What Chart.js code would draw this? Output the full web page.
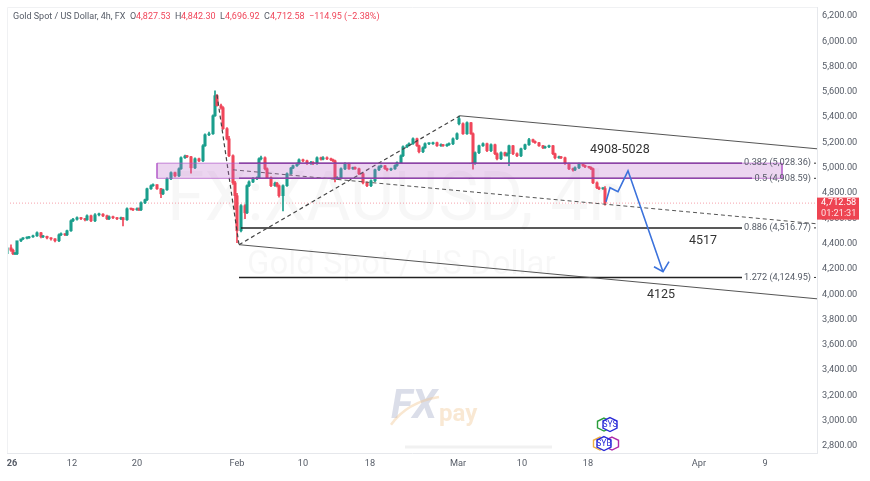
<!DOCTYPE html>
<html>
<head>
<meta charset="utf-8">
<title>Gold Spot / US Dollar, 4h</title>
<script src="https://cdn.jsdelivr.net/npm/chart.js@4/dist/chart.umd.min.js"></script>
<style>
  html, body { margin: 0; padding: 0; background: #fff; }
  canvas { display: block; filter: blur(0.35px); }
</style>
</head>
<body>
<canvas id="goldChart" width="870" height="481"></canvas>
<script>
// candles (x = bar number)
const candleBars = [
  0,2,3,4,5,7,8,10,11,13,
  15,17,18,20,22,24,26,27,29,30,
  32,33,35,37,39,40,42,44,46,48,
  50,51,53,55,57,58,60,62,63,65,
  66,67,69,70,72,73,75,77,78,80,
  82,84,86,87,89,90,92,94,96,98,
  99,101,103,104,105,107,108,110,111,113,
  114,115,117,119,120,121,123,125,126,127,
  129,130,132,134,135,136,138,140,142,143,
  145,146,148,150,152,153,155,157,158,160,
  162,163,164,165,167,169,171,173,174,176,
  178,180,182,184,186,187,189,190,192,194,
  195,197,198,200,201,203,205,206,208,209,
  211,213,215,217,218,220,221,223,225,226,
  228,230,232,233,234,236,238,240,242,244,
  245,247,249,250,251,253,255,257,259,261,
  263,264,266,268,269,271,273,274,276,277,
  279,281,283,284,286,288,289,291,292,293,
  295,296,298,299
];
const opens = [
  4312,4359,4340,4312,4312,4415,4430,4436,4438,4446,
  4454,4478,4446,4450,4438,4430,4415,4462,4470,4462,
  4494,4573,4585,4597,4590,4581,4612,4573,4620,4625,
  4612,4589,4605,4597,4589,4597,4581,4668,4665,4660,
  4668,4660,4715,4739,4826,4850,4858,4826,4786,4818,
  4905,4953,4929,4984,5071,5085,5079,4992,5063,5047,
  5166,5253,5261,5403,5562,5483,5467,5301,5221,5087,
  4873,4771,4494,4692,4636,4850,4880,4905,4913,5063,
  5071,4984,4913,4850,4870,4850,4771,4850,4945,4990,
  5008,5024,5055,5047,5024,5035,5024,5071,5060,5071,
  5063,5055,5047,4905,4913,4984,5024,4984,4995,4984,
  4945,4873,4850,4889,4976,5000,5008,4985,4976,4984,
  5010,5032,5087,5158,5170,5182,5221,5166,5119,5150,
  5182,5182,5190,5166,5175,5166,5175,5182,5221,5340,
  5340,5261,5348,5261,5024,5111,5166,5182,5127,5174,
  5103,5063,5111,5090,5103,5166,5103,5087,5142,5174,
  5214,5200,5190,5166,5150,5158,5166,5103,5071,5078,
  5071,5024,4984,4975,4992,5024,5010,5000,4995,4984,
  4873,4834,4826,4827.53
];
const highs = [
  4375,4383,4350,4322,4322,4425,4440,4446,4450,4460,
  4485,4482,4458,4452,4440,4432,4470,4478,4472,4500,
  4580,4592,4604,4600,4592,4620,4618,4630,4634,4630,
  4618,4612,4610,4600,4602,4600,4675,4674,4670,4676,
  4675,4722,4745,4832,4858,4866,4860,4830,4824,4912,
  4960,4958,4992,5078,5092,5090,5082,5070,5068,5175,
  5260,5275,5410,5600,5570,5495,5475,5310,5240,5095,
  4885,4790,4700,4700,4858,4888,4915,4920,5070,5085,
  5078,4992,4920,4878,4876,4858,4858,4952,4996,5014,
  5030,5062,5060,5052,5042,5040,5078,5076,5080,5078,
  5068,5060,5052,4922,4992,5032,5030,4998,5000,4990,
  4950,4880,4896,4982,5008,5014,5012,4990,4990,5016,
  5038,5094,5165,5176,5190,5228,5226,5172,5158,5190,
  5190,5196,5195,5182,5178,5182,5190,5228,5268,5400,
  5348,5355,5352,5268,5118,5172,5190,5188,5182,5180,
  5110,5118,5116,5110,5172,5170,5110,5148,5180,5225,
  5218,5204,5194,5170,5164,5172,5170,5108,5084,5082,
  5076,5030,4990,5000,5030,5028,5014,5004,5000,4990,
  4880,4842,4835,4842.30
];
const lows = [
  4300,4330,4305,4305,4305,4408,4424,4430,4434,4442,
  4450,4438,4440,4430,4420,4405,4408,4455,4455,4456,
  4488,4565,4578,4582,4572,4575,4565,4565,4612,4605,
  4582,4582,4590,4582,4582,4533,4575,4658,4652,4655,
  4652,4652,4708,4732,4820,4845,4820,4755,4780,4812,
  4898,4920,4922,4978,5065,5072,4950,4985,5040,5040,
  5160,5245,5255,5398,5478,5455,5295,5212,5080,4860,
  4660,4400,4485,4590,4630,4842,4874,4898,4906,5055,
  4975,4905,4842,4845,4840,4760,4650,4845,4940,4985,
  5002,5018,5040,5018,5018,5016,5018,5052,5054,5056,
  5048,5040,4880,4898,4905,4976,4978,4978,4978,4938,
  4865,4842,4843,4882,4970,4992,4978,4968,4970,4978,
  5002,5025,5080,5150,5164,5176,5160,5110,5112,5144,
  5174,5176,5160,5160,5160,5160,5168,5175,5214,5330,
  5255,5255,5255,4980,5018,5104,5160,5120,5120,5095,
  5055,5056,5084,5084,5008,5096,5080,5080,5135,5168,
  5192,5184,5160,5142,5144,5150,5095,5062,5066,5064,
  5018,4976,4966,4970,4985,5003,4992,4988,4976,4866,
  4826,4818,4820,4696.92
];
const closes = [
  4359,4340,4312,4312,4415,4430,4436,4438,4446,4454,
  4478,4446,4450,4438,4430,4415,4462,4470,4462,4494,
  4573,4585,4597,4590,4581,4612,4573,4620,4625,4612,
  4589,4605,4597,4589,4597,4581,4668,4665,4660,4668,
  4660,4715,4739,4826,4850,4858,4826,4786,4818,4905,
  4953,4929,4984,5071,5085,5079,4992,5063,5047,5166,
  5253,5261,5403,5562,5483,5467,5301,5221,5087,4873,
  4771,4494,4692,4636,4850,4880,4905,4913,5063,5071,
  4984,4913,4850,4870,4850,4771,4850,4945,4990,5008,
  5024,5055,5047,5024,5035,5024,5071,5060,5071,5063,
  5055,5047,4905,4913,4984,5024,4984,4995,4984,4945,
  4873,4850,4889,4976,5000,5008,4985,4976,4984,5010,
  5032,5087,5158,5170,5182,5221,5166,5119,5150,5182,
  5182,5190,5166,5175,5166,5175,5182,5221,5261,5380,
  5261,5348,5261,5024,5111,5166,5182,5127,5174,5103,
  5063,5111,5090,5103,5166,5103,5087,5142,5174,5214,
  5200,5190,5166,5150,5158,5166,5103,5071,5078,5071,
  5024,4984,4975,4992,5024,5010,5000,4995,4984,4873,
  4834,4826,4827.53,4712.58
];

// axes
const xTickBars = [2.5, 32.5, 65, 115, 148, 181.5, 225.5, 257.5, 290.5, 346, 379];
const xTickLabels = ['26', '12', '20', 'Feb', '10', '18', 'Mar', '10', '18', 'Apr', '9'];
const yTickValues = [6200, 6000, 5800, 5600, 5400, 5200, 5000, 4800, 4600, 4400, 4200, 4000, 3800, 3600, 3400, 3200, 3000, 2800];
const yTickLabels = ['6,200.00', '6,000.00', '5,800.00', '5,600.00', '5,400.00', '5,200.00', '5,000.00', '4,800.00', '4,600.00', '4,400.00', '4,200.00', '4,000.00', '3,800.00', '3,600.00', '3,400.00', '3,200.00', '3,000.00', '2,800.00'];

// fib levels and the drawings on top of the candles
const fibPrices = [5028.36, 4908.59, 4516.77, 4124.95];
const fibLabels = ['0.382 (5,028.36)', '0.5 (4,908.59)', '0.886 (4,516.77)', '1.272 (4,124.95)'];
const fibStartBars = [116, 116, 117, 116];
const fibEndBars = [367.5, 372.5, 367.5, 367.5];
const fibColors = ['#5a1f78', '#5a1f78', '#222222', '#222222'];
const zoneBars = [75, 387.5];
const dropBars = [105, 116], dropPrices = [5569, 4384];
const riseBars = [116, 226.5], risePrices = [4384, 5403];
const trendBars = [113, 405], trendPrices = [4976, 4549];
const upperBars = [226.5, 405], upperPrices = [5403, 5142];
const lowerBars = [116, 405], lowerPrices = [4384, 3956];
const arrowBars = [299.5, 301.5, 305.5, 310.5, 328], arrowPrices = [4724, 4834, 4803, 4968, 4170];
const headBars = [323.5, 328, 331], headPrices = [4210, 4170, 4250];
const lastPrice = 4712.58;

const upColor = '#1a9e8c', downColor = '#f0465a';
const uiFont = 'Roboto, "Open Sans", sans-serif';

function toPoints(xs, ys) {
  return xs.map((x, i) => ({ x: x, y: ys[i] }));
}
function line(xs, ys, color, width, dash, extra) {
  return Object.assign({
    type: 'line',
    data: toPoints(xs, ys),
    borderColor: color,
    borderWidth: width,
    borderDash: dash || [],
    pointRadius: 0,
    tension: 0,
    fill: false,
    order: 1
  }, extra || {});
}

const candleColors = closes.map((c, i) => c >= opens[i] ? upColor : downColor);

const datasets = [
  // zone
  line(zoneBars, [fibPrices[0], fibPrices[0]], 'rgba(178,90,200,0.75)', 1, [], {
    fill: '+1', backgroundColor: 'rgba(186,104,200,0.28)', order: 0
  }),
  line(zoneBars, [fibPrices[1], fibPrices[1]], 'rgba(178,90,200,0.75)', 1, [], { order: 0 }),
  line([75, 75], [fibPrices[0], fibPrices[1]], 'rgba(178,90,200,0.75)', 1, [], { order: 0 }),
  line([387.5, 387.5], [fibPrices[0], fibPrices[1]], 'rgba(178,90,200,0.75)', 1, [], { order: 0 }),
  // dashed swings and channel
  line(dropBars, dropPrices, '#444444', 1.2, [4, 3], { order: 0 }),
  line(riseBars, risePrices, '#444444', 1.2, [4, 3], { order: 0 }),
  line(trendBars, trendPrices, '#555555', 1, [4, 3], { order: 0 }),
  line(upperBars, upperPrices, '#555555', 1, [], { order: 0 }),
  line(lowerBars, lowerPrices, '#555555', 1, [], { order: 0 }),
  // last price
  line([0, 405], [lastPrice, lastPrice], 'rgba(240,70,90,0.5)', 1, [1, 2], { order: 3 }),
  // faint strip over the axis
  line([199, 272.5], [2784, 2784], '#f1f1f1', 3, [], { order: 5 }),
  // forecast arrow
  line(arrowBars, arrowPrices, '#3b72dc', 1.6, [], { order: -1 }),
  line(headBars, headPrices, '#3b72dc', 1.6, [], { order: -1 }),
  // wicks and bodies
  {
    type: 'bar',
    data: candleBars.map((b, i) => ({ x: b, y: [lows[i], highs[i]] })),
    backgroundColor: candleColors,
    barThickness: 1,
    order: 2,
    grouped: false
  },
  {
    type: 'bar',
    data: candleBars.map((b, i) => ({ x: b, y: [opens[i], closes[i]] })),
    backgroundColor: candleColors,
    barThickness: 2.4,
    minBarLength: 1,
    order: 1.5,
    grouped: false
  }
];

fibPrices.forEach((p, i) => {
  datasets.push(line([fibStartBars[i], fibEndBars[i]], [p, p], fibColors[i], 1.5, [], { order: 0 }));
});

// faint watermarks behind the candles
const watermarks = {
  id: 'watermarks',
  beforeDatasetsDraw(chart) {
    const ctx = chart.ctx, x = chart.scales.x, y = chart.scales.y;
    ctx.save();
    ctx.textBaseline = 'middle';
    ctx.textAlign = 'left';
    ctx.fillStyle = 'rgba(0,0,0,0.03)';
    ctx.font = '68px ' + uiFont;
    ctx.fillText('FX:XAUUSD, 4h', x.getPixelForValue(80), y.getPixelForValue(4710));
    ctx.font = '33px ' + uiFont;
    ctx.fillText('Gold Spot / US Dollar', x.getPixelForValue(120), y.getPixelForValue(4220));

    // FXpay logo
    ctx.fillStyle = 'rgba(105,115,165,0.24)';
    ctx.font = 'italic bold 40px ' + uiFont;
    ctx.fillText('FX', x.getPixelForValue(192), y.getPixelForValue(3090));
    ctx.fillStyle = 'rgba(240,195,140,0.38)';
    ctx.font = 'bold 24px ' + uiFont;
    ctx.fillText('pay', x.getPixelForValue(216), y.getPixelForValue(3040));
    ctx.strokeStyle = 'rgba(240,195,140,0.4)';
    ctx.lineWidth = 2.5;
    ctx.beginPath();
    ctx.moveTo(x.getPixelForValue(192), y.getPixelForValue(2960));
    ctx.quadraticCurveTo(x.getPixelForValue(200), y.getPixelForValue(3140), x.getPixelForValue(216), y.getPixelForValue(3180));
    ctx.stroke();
    ctx.restore();
  }
};

function shield(ctx, cx, cy, r, color, fill) {
  ctx.beginPath();
  ctx.moveTo(cx, cy - r);
  ctx.lineTo(cx + r, cy - r * 0.5);
  ctx.lineTo(cx + r, cy + r * 0.5);
  ctx.lineTo(cx, cy + r);
  ctx.lineTo(cx - r, cy + r * 0.5);
  ctx.lineTo(cx - r, cy - r * 0.5);
  ctx.closePath();
  if (fill) { ctx.fillStyle = fill; ctx.fill(); }
  ctx.lineWidth = 1.4;
  ctx.strokeStyle = color;
  ctx.stroke();
}

// header, fib labels, notes, price tag
const overlay = {
  id: 'overlay',
  afterDraw(chart) {
    const ctx = chart.ctx, x = chart.scales.x, y = chart.scales.y, area = chart.chartArea;
    ctx.save();

    // panel edge
    ctx.strokeStyle = '#f0f1f3';
    ctx.lineWidth = 1;
    ctx.beginPath();
    ctx.moveTo(area.left + 0.5, area.bottom);
    ctx.lineTo(area.left + 0.5, area.top + 0.5);
    ctx.lineTo(area.right, area.top + 0.5);
    ctx.stroke();

    // header
    ctx.textBaseline = 'middle';
    ctx.textAlign = 'left';
    ctx.font = '9px ' + uiFont;
    const header = [
      ['Gold Spot / US Dollar, 4h, FX', 13, '#555b66'],
      ['O', 130, '#555b66'], ['4,827.53', 136, '#f0465a'],
      ['H', 175, '#555b66'], ['4,842.30', 181, '#f0465a'],
      ['L', 220, '#555b66'], ['4,696.92', 225, '#f0465a'],
      ['C', 264, '#555b66'], ['4,712.58', 270, '#f0465a'],
      ['\u2212114.95 (\u22122.38%)', 309, '#f0465a']
    ];
    header.forEach(h => {
      ctx.fillStyle = h[2];
      ctx.fillText(h[0], h[1], 17);
    });

    // fib labels with their small marks at the axis
    ctx.textAlign = 'right';
    ctx.font = '9.2px ' + uiFont;
    fibPrices.forEach((p, i) => {
      ctx.fillStyle = '#555b66';
      ctx.fillText(fibLabels[i], x.getPixelForValue(402), y.getPixelForValue(p));
      ctx.fillStyle = '#333333';
      ctx.fillRect(area.right - 3, y.getPixelForValue(p) - 0.5, 2, 1);
    });

    // notes
    ctx.textAlign = 'left';
    ctx.fillStyle = '#333333';
    ctx.font = '12.5px ' + uiFont;
    ctx.fillText('4908-5028', x.getPixelForValue(291.5), y.getPixelForValue(5135));
    ctx.fillText('4517', x.getPixelForValue(341), y.getPixelForValue(4415));
    ctx.fillText('4125', x.getPixelForValue(320), y.getPixelForValue(3985));

    // study badges
    const by1 = y.getPixelForValue(2962), by2 = y.getPixelForValue(2812);
    shield(ctx, x.getPixelForValue(298.5), by1, 6.5, '#2a9d3a', '#ffffff');
    shield(ctx, x.getPixelForValue(301.5), by1, 7, '#2b2bd8', '#ffffff');
    shield(ctx, x.getPixelForValue(296.5), by2, 6.5, '#f0b040', '#ffffff');
    shield(ctx, x.getPixelForValue(302.5), by2, 6.5, '#b02aa8', '#ffffff');
    shield(ctx, x.getPixelForValue(298.5), by2, 7, '#2b2bd8', '#ffffff');
    ctx.textAlign = 'center';
    ctx.font = '8.5px ' + uiFont;
    ctx.fillStyle = '#2b2bd8';
    ctx.fillText('SYS', x.getPixelForValue(301.5), by1 + 0.5);
    ctx.fillText('SYB', x.getPixelForValue(298.5), by2 + 0.5);

    // price tag
    const tagY = y.getPixelForValue(lastPrice);
    ctx.fillStyle = '#ee4452';
    ctx.fillRect(area.right, tagY - 5.5, 42, 22);
    ctx.textAlign = 'left';
    ctx.fillStyle = '#ffffff';
    ctx.font = '9.2px ' + uiFont;
    ctx.fillText('4,712.58', area.right + 4, tagY);
    ctx.fillStyle = 'rgba(255,255,255,0.85)';
    ctx.fillText('01:21:31', area.right + 4, tagY + 11);
    ctx.restore();
  }
};

new Chart(document.getElementById('goldChart'), {
  type: 'bar',
  data: { datasets: datasets },
  plugins: [watermarks, overlay],
  options: {
    responsive: false,
    animation: false,
    devicePixelRatio: 1,
    layout: { padding: { left: 7, top: 7, right: 0, bottom: 0 } },
    plugins: { legend: { display: false }, tooltip: { enabled: false } },
    scales: {
      x: {
        type: 'linear',
        offset: false,
        min: 0,
        max: 405,
        grid: { display: false, drawTicks: false },
        border: { color: '#e6e8ec' },
        afterFit(scale) { scale.height = 28; scale.paddingLeft = 0; scale.paddingRight = 0; },
        afterBuildTicks(scale) {
          scale.ticks = xTickBars.map(v => ({ value: v }));
        },
        ticks: {
          autoSkip: false,
          maxRotation: 0,
          padding: 5,
          color: '#555b66',
          font: ctx => ({ family: uiFont, size: 9.2, weight: ctx.index === 0 ? 'bold' : 'normal' }),
          callback: (value, i) => xTickLabels[i]
        }
      },
      y: {
        position: 'right',
        min: 2737,
        max: 6263,
        grid: { display: false, drawTicks: false },
        border: { color: '#e6e8ec' },
        afterFit(scale) { scale.width = 53; scale.paddingTop = 0; scale.paddingBottom = 0; },
        afterBuildTicks(scale) {
          scale.ticks = yTickValues.map(v => ({ value: v }));
        },
        ticks: {
          autoSkip: false,
          padding: 5,
          labelOffset: 1,
          color: '#555b66',
          font: { family: uiFont, size: 9.2 },
          callback: (value, i) => yTickLabels[i]
        }
      }
    }
  }
});
</script>
</body>
</html>
